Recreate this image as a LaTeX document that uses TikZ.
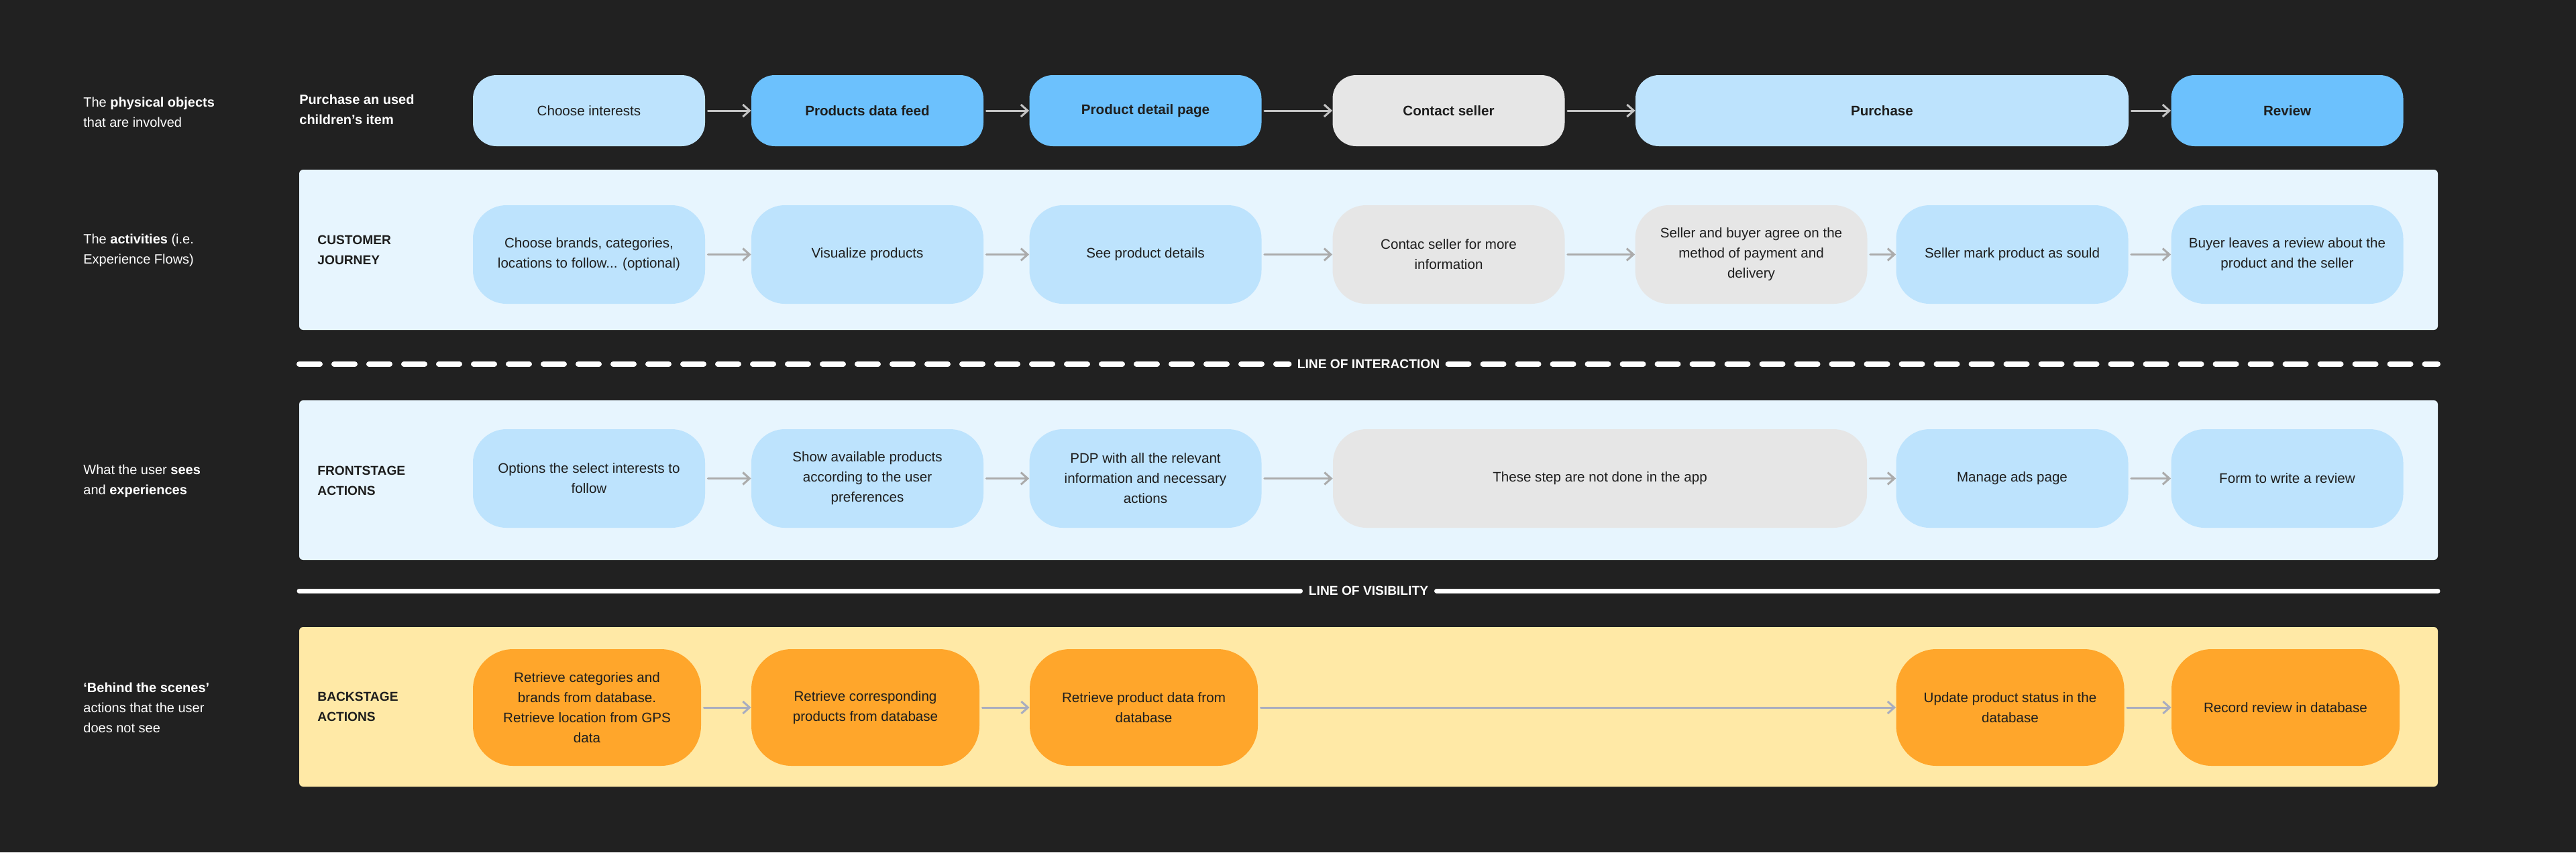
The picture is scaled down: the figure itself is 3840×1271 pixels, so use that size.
\documentclass[tikz,border=0pt]{standalone}
\usepackage{fontspec}
\setmainfont{Liberation Sans}
\usetikzlibrary{arrows.meta}
\definecolor{bgdark}{HTML}{212121}
\definecolor{lanepale}{HTML}{E7F5FE}
\definecolor{laneyellow}{HTML}{FFE9A6}
\definecolor{stepsky}{HTML}{BDE3FD}
\definecolor{stepblue}{HTML}{6CC1FD}
\definecolor{stepgrey}{HTML}{E6E6E6}
\definecolor{steporange}{HTML}{FFA62B}
\definecolor{inkdark}{HTML}{1E1E1E}
\definecolor{arrowlight}{HTML}{C4C4C4}
\definecolor{arrowgrey}{HTML}{ABABAB}
\definecolor{arrowslate}{HTML}{A9ADBF}
\begin{document}
\begin{tikzpicture}[x=0.5pt, y=-0.5pt, line join=round, line cap=round, >={Straight Barb[length=5pt,width=9pt]},
	txt/.style={font=\fontsize{10.3}{15}\selectfont},
	txtb/.style={font=\fontsize{10.3}{15}\selectfont\bfseries},
	card/.style={txt, align=center, text=inkdark, inner sep=0pt, minimum width=173pt},
	obj/.style={card, minimum height=53pt, rounded corners=17.5pt},
	act/.style={card, minimum height=73.5pt, rounded corners=25pt},
	back/.style={card, fill=steporange, minimum width=170pt, minimum height=87pt, rounded corners=30pt},
	side/.style={font=\fontsize{10}{15}\selectfont, anchor=west, align=left, text=white, inner sep=0pt},
	head/.style={font=\fontsize{9.6}{15}\selectfont\bfseries, anchor=west, align=left, text=inkdark, inner sep=0pt},
	line label/.style={font=\fontsize{9.6}{12}\selectfont\bfseries, text=white, inner xsep=6pt},
	flow/.style={->, line width=1.5pt, shorten <=2pt}]
	\fill[bgdark] (0,0) rectangle (3840,1271);
	\fill[lanepale, rounded corners=3pt] (446,253) rectangle (3634,492);
	\fill[lanepale, rounded corners=3pt] (446,597) rectangle (3634,835);
	\fill[laneyellow, rounded corners=3pt] (446,935) rectangle (3634,1173);
	% row labels
	\node[side] (objects) at (124,167) {The \textbf{physical objects}\\that are involved};
	\node[side] (activities) at (124,373) {The \textbf{activities} (i.e.\\Experience Flows)};
	\node[side] (sees) at (124,717) {What the user \textbf{sees}\\and \textbf{experiences}};
	\node[side] (scenes) at (124,1055) {\textbf{‘Behind the scenes’}\\actions that the user\\does not see};
	\node[side, font=\fontsize{10}{15}\selectfont\bfseries] (title) at (446,163) {Purchase an used\\children’s item};
	\node[head] (journey) at (473,373) {CUSTOMER\\JOURNEY};
	\node[head] (front) at (473,717) {FRONTSTAGE\\ACTIONS};
	\node[head] (back) at (473,1054) {BACKSTAGE\\ACTIONS};
	% physical objects
	\node[obj, fill=stepsky] (o1) at (878,165) {Choose interests};
	\node[obj, txtb, fill=stepblue] (o2) at (1293,165) {Products data feed};
	\node[obj, txtb, fill=stepblue] (o3) at (1707.5,165) {Product detail page};
	\node[obj, txtb, fill=stepgrey] (o4) at (2159.5,165) {Contact seller};
	\node[obj, txtb, fill=stepsky, minimum width=367.5pt] (o5) at (2805.5,165) {Purchase};
	\node[obj, txtb, fill=stepblue] (o6) at (3409.5,165) {Review};
	\foreach \a/\b in {o1/o2, o2/o3, o3/o4, o4/o5, o5/o6}{\draw[flow, arrowlight] (\a) -- (\b);}
	% customer journey
	\node[act, fill=stepsky] (c1) at (878,379.5) {Choose brands, categories,\\locations to follow... (optional)};
	\node[act, fill=stepsky] (c2) at (1293,379.5) {Visualize products};
	\node[act, fill=stepsky] (c3) at (1707.5,379.5) {See product details};
	\node[act, fill=stepgrey] (c4) at (2159.5,379.5) {Contac seller for more\\information};
	\node[act, fill=stepgrey] (c5) at (2610.5,379.5) {Seller and buyer agree on the\\method of payment and\\delivery};
	\node[act, fill=stepsky] (c6) at (2999.5,379.5) {Seller mark product as sould};
	\node[act, fill=stepsky] (c7) at (3409.5,379.5) {Buyer leaves a review about the\\product and the seller};
	\foreach \a/\b in {c1/c2, c2/c3, c3/c4, c4/c5, c5/c6, c6/c7}{\draw[flow, arrowgrey] (\a) -- (\b);}
	% line of interaction
	\node[line label] (interaction) at (2040,543) {LINE OF INTERACTION};
	\coordinate (il) at (446,543);
	\coordinate (ir) at (3634,543);
	\draw[white, line width=4pt, dash pattern=on 15.5pt off 10.5pt] (il) -- (interaction) (interaction) -- (ir);
	% frontstage
	\node[act, fill=stepsky] (f1) at (878,713.5) {Options the select interests to\\follow};
	\node[act, fill=stepsky] (f2) at (1293,713.5) {Show available products\\according to the user\\preferences};
	\node[act, fill=stepsky] (f3) at (1707.5,713.5) {PDP with all the relevant\\information and necessary\\actions};
	\node[act, fill=stepgrey, minimum width=398pt] (f4) at (2385,713.5) {These step are not done in the app};
	\node[act, fill=stepsky] (f5) at (2999.5,713.5) {Manage ads page};
	\node[act, fill=stepsky] (f6) at (3409.5,713.5) {Form to write a review};
	\foreach \a/\b in {f1/f2, f2/f3, f3/f4, f4/f5, f5/f6}{\draw[flow, arrowgrey] (\a) -- (\b);}
	% line of visibility
	\node[line label] (visibility) at (2040,881) {LINE OF VISIBILITY};
	\coordinate (vl) at (446,881);
	\coordinate (vr) at (3634,881);
	\draw[white, line width=3.5pt] (vl) -- (visibility) (visibility) -- (vr);
	% backstage
	\node[back] (b1) at (875,1055) {Retrieve categories and\\brands from database.\\Retrieve location from GPS\\data};
	\node[back] (b2) at (1290,1055) {Retrieve corresponding\\products from database};
	\node[back] (b3) at (1705,1055) {Retrieve product data from\\database};
	\node[back] (b4) at (2996.5,1055) {Update product status in the\\database};
	\node[back] (b5) at (3407,1055) {Record review in database};
	\foreach \a/\b in {b1/b2, b2/b3, b3/b4, b4/b5}{\draw[flow, arrowslate] (\a) -- (\b);}
\end{tikzpicture}
\end{document}
